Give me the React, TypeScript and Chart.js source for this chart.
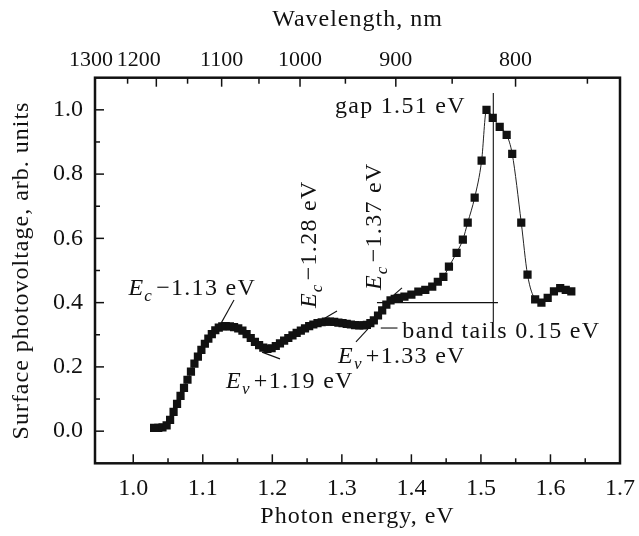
import React, { useEffect, useRef } from 'react';
import { Chart, registerables } from 'chart.js';

Chart.register(...registerables);

// ---- data ----
const photonEnergy = [
  1.030, 1.036, 1.042, 1.048, 1.053, 1.058, 1.063, 1.068, 1.073, 1.078,
  1.083, 1.088, 1.093, 1.098, 1.103, 1.108, 1.113, 1.118, 1.123, 1.128,
  1.133, 1.139, 1.145, 1.151, 1.157, 1.163, 1.169, 1.175, 1.181, 1.187,
  1.193, 1.199, 1.205, 1.211, 1.217, 1.223, 1.229, 1.235, 1.241, 1.247,
  1.253, 1.259, 1.265, 1.271, 1.277, 1.283, 1.289, 1.295, 1.301, 1.307,
  1.313, 1.319, 1.325, 1.331, 1.336, 1.341, 1.346, 1.352, 1.358, 1.364,
  1.370, 1.376, 1.382, 1.390, 1.400, 1.410, 1.420, 1.430, 1.438, 1.446,
  1.454, 1.465, 1.474, 1.481, 1.491, 1.501, 1.508, 1.517, 1.527, 1.537,
  1.545, 1.558, 1.567, 1.578, 1.587, 1.596, 1.605, 1.614, 1.622, 1.630,
];
const photovoltage = [
  0.010, 0.010, 0.012, 0.018, 0.035, 0.060, 0.085, 0.110, 0.135, 0.160,
  0.185, 0.210, 0.232, 0.253, 0.272, 0.288, 0.302, 0.314, 0.322, 0.326,
  0.327, 0.326, 0.324, 0.320, 0.313, 0.302, 0.290, 0.278, 0.268, 0.260,
  0.256, 0.258, 0.265, 0.273, 0.282, 0.290, 0.298, 0.306, 0.313, 0.320,
  0.327, 0.332, 0.336, 0.339, 0.341, 0.341, 0.340, 0.338, 0.336, 0.334,
  0.332, 0.330, 0.329, 0.329, 0.331, 0.336, 0.345, 0.360, 0.376, 0.394,
  0.407, 0.412, 0.415, 0.419, 0.425, 0.434, 0.440, 0.450, 0.465, 0.480,
  0.512, 0.555, 0.596, 0.649, 0.727, 0.842, 1.000, 0.975, 0.947, 0.922,
  0.863, 0.649, 0.487, 0.410, 0.400, 0.415, 0.435, 0.445, 0.440, 0.435,
];

// ---- axes ----
const HC = 1239.84; // eV*nm
const energyMin = 0.945;
const energyMax = 1.7;
const voltMin = -0.1;
const voltMax = 1.1;
const bottomTickValues = [1.0, 1.1, 1.2, 1.3, 1.4, 1.5, 1.6, 1.7];
const bottomMinorTicks = [1.05, 1.15, 1.25, 1.35, 1.45, 1.55, 1.65];
const leftTickValues = [0.0, 0.2, 0.4, 0.6, 0.8, 1.0];
const leftMinorTicks = [0.1, 0.3, 0.5, 0.7, 0.9];
const topLabelText = ['1300', '1200', '1100', '1000', '900', '800'];
const topLabelPrintedAtNm = [1320, 1230, 1100, 1000, 900, 800];
const topMajorTicksNm = [1200, 1100, 1000, 900, 800];
const topMinorTicksNm = [1250, 1150, 1050, 950, 850, 750];
const xTitle = 'Photon energy, eV';
const x2Title = 'Wavelength, nm';
const yTitle = 'Surface photovoltage, arb. units';

// ---- annotations (data units: photon energy, photovoltage) ----
type Part = [string, 'n' | 'i' | 's'];
const annotationTexts: { parts: Part[]; e: number; v: number; vertical: boolean }[] = [
  { parts: [['E', 'i'], ['c', 's'], ['\u22121.13 eV', 'n']], e: 0.993, v: 0.424, vertical: false },
  { parts: [['E', 'i'], ['v', 's'], ['+1.19 eV', 'n']], e: 1.1334, v: 0.134, vertical: false },
  { parts: [['E', 'i'], ['v', 's'], ['+1.33 eV', 'n']], e: 1.2945, v: 0.212, vertical: false },
  { parts: [['band tails 0.15 eV', 'n']], e: 1.387, v: 0.29, vertical: false },
  { parts: [['gap 1.51 eV', 'n']], e: 1.2901, v: 0.99, vertical: false },
  { parts: [['E', 'i'], ['c', 's'], ['\u22121.28 eV', 'n']], e: 1.2628, v: 0.383, vertical: true },
  { parts: [['E', 'i'], ['c', 's'], ['\u22121.37 eV', 'n']], e: 1.3563, v: 0.439, vertical: true },
];
const markerSegments: [number, number, number, number][] = [
  [1.1449, 0.408, 1.1248, 0.330],
  [1.1852, 0.246, 1.2110, 0.225],
  [1.2686, 0.343, 1.2930, 0.374],
  [1.3663, 0.408, 1.3865, 0.446],
  [1.3203, 0.278, 1.3376, 0.318],
  [1.3560, 0.321, 1.3800, 0.321],
  [1.3505, 0.400, 1.5245, 0.400],
  [1.5178, 1.052, 1.5178, 0.340],
];

const FONT_FAMILY = '"Liberation Serif", "Times New Roman", serif';
const INK = '#111';

function drawRich(ctx: CanvasRenderingContext2D, parts: Part[], x: number, y: number, rot: number) {
  ctx.save();
  ctx.translate(x, y);
  if (rot) ctx.rotate(rot);
  ctx.textAlign = 'left';
  ctx.textBaseline = 'alphabetic';
  ctx.fillStyle = INK;
  (ctx as any).letterSpacing = '1.3px';
  let cx = 0;
  for (const [t, style] of parts) {
    const sub = style === 's';
    const italic = style === 'i' || sub;
    ctx.font = `${italic ? 'italic ' : ''}${sub ? 17 : 24}px ${FONT_FAMILY}`;
    ctx.fillText(t, cx, sub ? 6 : 0);
    cx += ctx.measureText(t).width + (sub ? 3 : 0);
  }
  ctx.restore();
}

function drawTitle(ctx: CanvasRenderingContext2D, text: string, x: number, y: number, rot: number) {
  ctx.save();
  ctx.translate(x, y);
  if (rot) ctx.rotate(rot);
  ctx.font = `24px ${FONT_FAMILY}`;
  (ctx as any).letterSpacing = '1px';
  ctx.fillStyle = INK;
  ctx.textAlign = 'center';
  ctx.textBaseline = 'middle';
  ctx.fillText(text, 0, 0);
  ctx.restore();
}

const decorPlugin = {
  id: 'decor',
  beforeDatasetsDraw(chart: any) {
    const { ctx, scales } = chart;
    const x = scales.x;
    const y = scales.y;
    ctx.save();
    ctx.strokeStyle = INK;
    ctx.lineWidth = 1.1;
    for (const [e1, v1, e2, v2] of markerSegments) {
      ctx.beginPath();
      ctx.moveTo(x.getPixelForValue(e1), y.getPixelForValue(v1));
      ctx.lineTo(x.getPixelForValue(e2), y.getPixelForValue(v2));
      ctx.stroke();
    }
    ctx.restore();
  },
  afterDatasetsDraw(chart: any) {
    const { ctx, scales, chartArea: a, width, height } = chart;
    const x = scales.x;
    const y = scales.y;
    ctx.save();
    for (const t of annotationTexts) {
      drawRich(ctx, t.parts, x.getPixelForValue(t.e), y.getPixelForValue(t.v), t.vertical ? -Math.PI / 2 : 0);
    }
    const cx = (a.left + a.right) / 2;
    drawTitle(ctx, xTitle, cx, height - 19, 0);
    drawTitle(ctx, x2Title, cx, 20, 0);
    drawTitle(ctx, yTitle, 21.5, (a.top + a.bottom) / 2, -Math.PI / 2);

    ctx.strokeStyle = INK;
    ctx.lineWidth = 1.5;
    const tick = (x1: number, y1: number, x2: number, y2: number) => {
      ctx.beginPath();
      ctx.moveTo(x1, y1);
      ctx.lineTo(x2, y2);
      ctx.stroke();
    };
    for (const v of bottomTickValues) {
      const px = x.getPixelForValue(v);
      if (px < a.right - 2) tick(px, a.bottom, px, a.bottom - 9);
    }
    for (const v of bottomMinorTicks) {
      const px = x.getPixelForValue(v);
      tick(px, a.bottom, px, a.bottom - 5);
    }
    for (const v of leftTickValues) {
      const py = y.getPixelForValue(v);
      tick(a.left, py, a.left + 9, py);
    }
    for (const v of leftMinorTicks) {
      const py = y.getPixelForValue(v);
      tick(a.left, py, a.left + 5, py);
    }
    for (const nm of topMajorTicksNm) {
      const px = x.getPixelForValue(HC / nm);
      tick(px, a.top, px, a.top + 9);
    }
    for (const nm of topMinorTicksNm) {
      const px = x.getPixelForValue(HC / nm);
      tick(px, a.top, px, a.top + 6);
    }
    ctx.lineWidth = 2.5;
    ctx.strokeRect(a.left, a.top, a.right - a.left, a.bottom - a.top);
    ctx.restore();
  },
};

export default function App() {
  const canvasRef = useRef<HTMLCanvasElement | null>(null);

  useEffect(() => {
    document.body.style.margin = '0';
    const canvas = canvasRef.current;
    if (!canvas) return;
    const font = { family: FONT_FAMILY, size: 24 };
    const chart = new Chart(canvas, {
      type: 'line',
      data: {
        datasets: [
          {
            data: photonEnergy.map((e, i) => ({ x: e, y: photovoltage[i] })),
            borderColor: '#222',
            borderWidth: 1,
            pointStyle: 'rect',
            pointRadius: 5.8,
            pointBackgroundColor: '#111',
            pointBorderWidth: 0,
            cubicInterpolationMode: 'monotone',
            fill: false,
          } as any,
        ],
      },
      options: {
        animation: false,
        responsive: true,
        maintainAspectRatio: false,
        layout: { padding: { top: 0, left: 0, bottom: 0, right: 19 } },
        plugins: { legend: { display: false }, tooltip: { enabled: false } },
        scales: {
          x: {
            type: 'linear',
            position: 'bottom',
            min: energyMin,
            max: energyMax,
            afterBuildTicks: (s: any) => {
              s.ticks = bottomTickValues.map((v) => ({ value: v }));
            },
            afterFit: (s: any) => {
              s.height = 72.7;
              s.paddingLeft = 0;
              s.paddingRight = 0;
            },
            ticks: {
              callback: (v: any) => Number(v).toFixed(1),
              padding: 11.4,
              font,
              color: INK,
              autoSkip: false,
              maxRotation: 0,
            },
            grid: { display: false, drawTicks: false },
            border: { display: false },
          },
          x2: {
            type: 'linear',
            position: 'top',
            min: energyMin,
            max: energyMax,
            afterBuildTicks: (s: any) => {
              s.ticks = topLabelPrintedAtNm.map((nm) => ({ value: HC / nm }));
            },
            afterFit: (s: any) => {
              s.height = 77.7;
              s.paddingLeft = 0;
              s.paddingRight = 0;
            },
            ticks: {
              callback: (_v: any, i: number) => topLabelText[i],
              padding: 4,
              font: { family: FONT_FAMILY, size: 22 },
              color: INK,
              autoSkip: false,
              maxRotation: 0,
            },
            grid: { display: false, drawTicks: false },
            border: { display: false },
          },
          y: {
            type: 'linear',
            position: 'left',
            min: voltMin,
            max: voltMax,
            afterBuildTicks: (s: any) => {
              s.ticks = leftTickValues.map((v) => ({ value: v }));
            },
            afterFit: (s: any) => {
              s.width = 95;
            },
            ticks: {
              callback: (v: any) => Number(v).toFixed(1),
              padding: 12,
              font,
              color: INK,
              autoSkip: false,
            },
            grid: { display: false, drawTicks: false },
            border: { display: false },
          },
        },
      } as any,
      plugins: [decorPlugin],
    });
    return () => chart.destroy();
  }, []);

  return (
    <div style={{ position: 'absolute', left: 0, top: 0, width: 639, height: 536, background: '#fff' }}>
      <canvas ref={canvasRef} />
    </div>
  );
}
